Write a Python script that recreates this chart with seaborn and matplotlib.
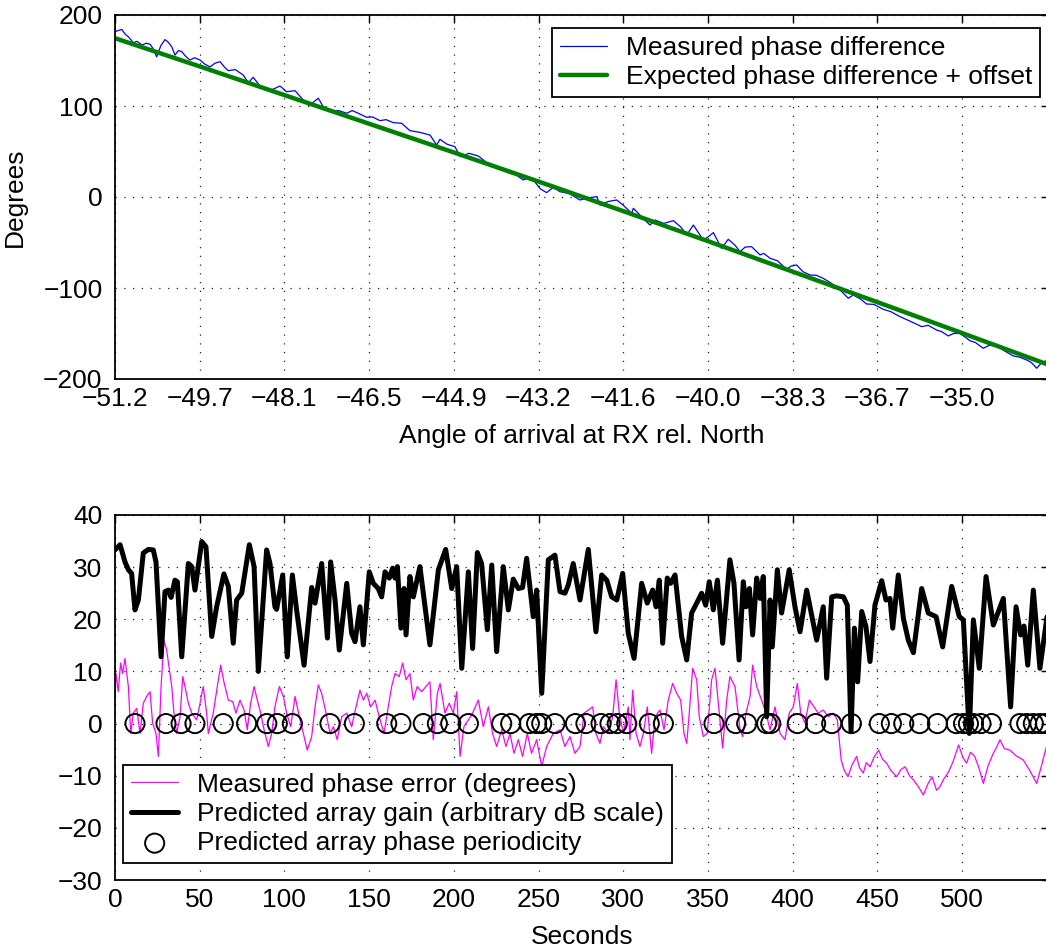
import numpy as np
import pandas as pd
import matplotlib
matplotlib.use("Agg")
import matplotlib.pyplot as plt
import seaborn as sns

# ---------------- data ----------------
# Top panel: time (s) and measured phase difference (deg)
meas_t = [0, 2, 4, 6, 7.9, 10.8, 13, 16, 18.5, 20.7, 22.5, 24.6, 27, 29.5, 31.5, 33.5, 35.4, 37.5,
          39.4, 42, 44.3, 47, 50.2, 53, 56.1, 59, 62, 64.5, 66.9, 71, 75.7, 78.7, 81.6, 86,
          90.5, 94, 97.4, 101.3, 106.3, 110, 114.1, 117, 120, 123, 126.9, 132, 136.8, 140,
          143.6, 148.6, 152, 156.4, 160, 164.3, 169.2, 174.1, 180, 186, 189.9, 191.8, 196,
          200.7, 203.7, 209, 214.5, 220, 225.3, 229, 233.2, 237, 241, 244, 247, 251, 254.8, 258.7,
          262.7, 268, 274.5, 279, 284.4, 286.3, 291, 296.2, 300, 305, 306, 311, 315.8, 318.8,
          324, 329.6, 334, 337.5, 341.4, 344, 347.3, 350, 353.2, 358.1, 362, 366, 369, 372,
          375.8, 380.8, 383, 386.7, 391, 396.5, 399, 402.4, 406, 410.3, 414, 418.1, 423,
          428, 432.9, 435.8, 440, 443.7, 448, 453.5, 458, 463.4, 470, 476.2, 480, 485, 488,
          491.9, 495, 498.8, 504.7, 508, 512.6, 516, 520.5, 525, 530.3, 534, 538.2, 541,
          544.1, 547, 551]
meas_deg = [181.7, 183, 184, 179, 176, 169.6, 171, 167, 169, 167.8, 163, 154, 166, 173, 170, 165,
            156, 161, 159.7, 154, 150.5, 153, 150.5, 146, 143, 147, 148.7, 143, 138.8, 140,
            134, 125.6, 131.5, 121, 116.8, 119, 122, 115.7, 116.8, 109, 101, 104, 108.5, 99,
            93.7, 95, 92, 95, 92, 87.6, 88, 83.9, 85, 81.7, 81, 72.9, 71, 68, 57, 63.4, 58,
            55.3, 44.3, 48, 45, 37, 31.5, 29, 26, 24, 18.7, 21, 18.7, 9, 4.8, 10.6,
            5.8, 4, -3.3, -1, 0.4, -8.8, -5, -3.3, -9, -17.9, -12.4, -22, -30.8, -25.3,
            -29, -26, -33, -41.8, -30.8, -38, -47.3, -44, -39.2, -56.4, -46.5, -53, -60.1, -55,
            -54.6, -63.7, -62, -67.4, -70, -79.5, -76, -74.7, -82, -85.7, -86, -89.4, -95,
            -102.2, -111.3, -107.7, -112, -117.6, -118, -123.4, -126, -131.5, -137, -142.5, -141,
            -146.2, -148, -152.7, -150, -149.8, -157.9, -160, -166.3, -163, -163.7, -169, -174.7,
            -176, -179.1, -182, -188.2, -182, -179]

exp_t = [0, 50, 100, 150, 200, 250, 300, 350, 400, 450, 500, 552]
exp_deg = [174.5, 143.5, 112, 80.5, 49, 17, -15.5, -48.5, -82, -115.5, -149.5, -185]

angle_tick_t = [0, 50, 100, 150, 200, 250, 300, 350, 400, 450, 500]
angle_tick_labels = ["\u221251.2", "\u221249.7", "\u221248.1", "\u221246.5", "\u221244.9", "\u221243.2",
                     "\u221241.6", "\u221240.0", "\u221238.3", "\u221236.7", "\u221235.0"]

# Bottom panel: predicted array gain (arbitrary dB)
gain_t = [0, 3, 5.9, 7.9, 9.8, 11.8, 13.8, 16.7, 19.7, 22.6, 24.2, 27.2, 29.5, 31.5, 33.1, 35.4,
          36.8, 39.4, 43.3, 45.3, 47.2, 51.2, 53.7, 57.1, 60, 64.3, 66.9, 69.8, 71.8, 74.8, 79.3,
          82.1, 84.6, 89.5, 91.5, 94.4, 95.4, 99, 101.7, 104.7, 107.2, 111.6, 116.1, 118.1, 122,
          125.4, 127.3, 129.9, 132.4, 136.8, 139.7, 141.7, 144.6, 146.6, 150.1, 152.5, 155.4,
          157.4, 159.4, 161.9, 163.9, 165.3, 166.7, 168.8, 170.6, 171.8, 174.1, 176.1, 180,
          185.9, 190.9, 195.2, 198.8, 201.7, 204.7, 208.6, 211.1, 213.9, 216.4, 219.8, 222.4,
          225.3, 229.2, 232.2, 235.1, 238.1, 240.6, 243, 246.9, 248.9, 251.9, 255.8, 259.7,
          262.7, 265.6, 267.6, 270.5, 274.5, 279.4, 283.9, 287.3, 290.3, 293.2, 296.2, 299.7,
          303, 306.4, 310.9, 314.2, 317.4, 319.4, 321.3, 323.3, 326, 328, 330.6, 334.5, 337.5,
          340.4, 343.4, 346.3, 348.7, 350.8, 353.2, 355.6, 358.7, 363, 365.4, 368.4, 370.9,
          372.5, 374.5, 376.4, 378.8, 380.8, 382.7, 384.7, 386.7, 388, 391, 393.5, 398, 401.4,
          404.4, 408.3, 411.8, 414.2, 418.1, 420.1, 423.1, 426, 430, 432.3, 434.5, 436.5, 438.4,
          440.8, 443.3, 445.7, 448.6, 452.6, 455.1, 457.5, 459.1, 462.4, 465.4, 468.3, 471.3,
          476.2, 480.1, 484.7, 488.6, 493.9, 498.4, 500.8, 504.3, 506.7, 510.2, 514.2, 518.5,
          524.4, 528.7, 531.9, 534.6, 536.6, 538.8, 542.1, 546, 551]
gain_db = [33.3, 34.3, 31, 29.5, 28.8, 21.8, 23.7, 32.7, 33.4, 33.3, 31, 12.8, 25.3, 25.6, 24.2, 27.5,
           27.2, 12.8, 30.7, 30.1, 25.6, 34.9, 33.9, 16.7, 22.4, 28.7, 26.3, 15.4, 23.7, 25, 34.3,
           30.1, 10, 33.3, 30.7, 22.4, 21.9, 28.5, 12.8, 28.5, 21.8, 11.2, 26.1, 23.1, 30.7,
           16.4, 31, 23.7, 14.1, 26.9, 17.3, 15.7, 22.4, 15.1, 29.1, 26.9, 25.9,
           24.3, 29.1, 27.9, 29.8, 27.9, 30.1, 18.3, 25.9, 17, 28.2, 24.3, 30.1,
           15.1, 29.5, 33.4, 25.9, 30.1, 10.6, 29.1, 14.4, 32.8, 30.7, 18, 30.4,
           13.8, 30.1, 21.8, 27.7, 25.9, 26.1, 31.7, 20.5, 25.6, 5.8, 31.4, 32.3,
           25.3, 25, 26.6, 30.7, 23.7, 33.4, 17.6, 28.5, 27.5, 24.3, 23.7, 28.8,
           17.3, 12.5, 26.9, 23.1, 25.6, 22.4, 27.5, 15.4, 27.9, 26.9, 28.5, 16.7, 12.2,
           21.2, 23.1, 25, 22.7, 27.2, 21.8, 27.5, 15.4, 31.4, 26.9, 12.2, 27.2,
           22.4, 25.9, 17, 27.9, 24, 28.2, 1.3, 23.7, 14.7, 29.5, 21.2, 29.5, 22.4,
           17.6, 25.6, 19.9, 16, 22.4, 8.7, 24.3, 24.5, 24.3, 22.7, -1.5, 18.3, 8,
           21.5, 18.6, 11.9, 22.7, 27.4, 23.7, 24, 18.3, 28.5, 20.2, 16, 13.6,
           25.9, 21.2, 20.5, 14.7, 26.3, 20.5, 19.9, -1.9, 19.9, 10.6, 28.2, 18.9,
           24, 3.2, 22.4, 17, 18.7, 11.2, 25.6, 10.6, 22.4]

# Bottom panel: measured phase error (deg)
err_t = [0, 0.6, 1.9, 3.3, 4.5, 5.9, 7.9, 9.3, 10.8, 12.8, 14.8, 16.7, 18.7, 20.7, 22.2, 24.2, 25.6,
         27.2, 28.9, 30.5, 32.1, 33.5, 34.8, 36.4, 38.4, 40, 41.3, 43.3, 45.3, 48.2, 50.2, 52.1,
         54.1, 55.1, 58, 60.4, 62.4, 64.3, 66.9, 69.5, 71.4, 73.8, 76.2, 78.1, 80.1, 82.1, 84,
         86, 88, 90.5, 92.5, 94.4, 97, 99.4, 101.3, 103.7, 106.3, 108.8, 111.2, 113.5, 116.1,
         118.1, 120, 122, 124.6, 126.9, 128.9, 131.2, 133.8, 136.8, 139.7, 142.3, 144.6, 146.6,
         148.6, 150.9, 153.5, 156, 158.8, 161.3, 163.3, 165.3, 167.8, 169.8, 171.8, 174.1,
         176.1, 178.4, 181, 183.6, 185.9, 187.9, 190.3, 191.9, 194.8, 197.3, 199.7, 201.7,
         203.7, 206, 208.6, 211.1, 214.5, 217.4, 220.4, 222.9, 225.3, 228.3, 230.8, 233.2,
         235.5, 238.1, 240.6, 243.4, 245.9, 248.9, 251.9, 254.8, 258.7,
         262.7, 265.6, 268.6, 271.5, 274.5, 276.9, 279.4, 282, 283.9, 286.3, 288.3, 291.2,
         293.8, 295.8, 297.7, 300.1, 303, 304, 305.6, 307.6, 309.9, 311.9, 314.2, 316.8,
         318.8, 321.7, 324.1, 326.6, 329.2, 331.6, 333.9, 335.9, 337.5, 339, 341, 343.4,
         344.9, 347.3, 349.6, 352.2, 354.2, 356.7, 358.7, 361.1, 363, 366, 369, 370.5,
         372.5, 374.9, 376.4, 378.8, 381.7, 384.3, 386.7, 389.6, 392.6, 395.5, 398, 400.4,
         402.8, 404.8, 407.3, 409.9, 412.6, 415.2, 418.1, 421.1, 424, 426.4,
         428.7, 430.5, 432.7, 435, 437.8, 439.5, 441.7, 443.5, 445.7, 448, 450.8, 453, 455.5,
         458, 461.4, 464, 466.5, 469, 471.3, 474, 477.2, 480, 482.3, 485, 487, 489.5, 491.7,
         494.5, 498, 500.5, 502.7, 505, 507.5, 510, 512.6, 515.5, 518.5, 520.5, 522.4, 525,
         528.3, 532, 536.2, 540, 544.1, 547, 551]
err_deg = [5.8, 9.6, 6.1, 11.6, 9.6, 12.5, 7.1, -1.9, 2, 2.9, -1.9, 3.9, 5.2, 6.1, 0.1, -1.9, -6.3,
           7.1, 16, 14.1, 10.3, 7.1, 2, -1.9, 1.3, 9, 7.1, 3.9, 2, 0.7, 3.9, 7.1,
           2, -1.9, 2, 7.1, 11.2, 8, 4.5, 4.2, 2, 4.5, 2.6, -1.2, 3.9, 7.1, 4.5,
           2, -1.2, -4.4, -1.9, 3.2, 7.1, 5.2, 2, -0.6, 5.2, 1.3, -1.9, -5.1, -2.5,
           3.2, 7.4, 5.8, 2, -1.9, -0.6, -3.1, 1.3, 2, -0.6, 3.2, 6.4, 4.5,
           5.8, 3.2, 4.5, 1.3, -1.9, 3.2, 7.1, 9.6, 9, 11.6, 8.4, 9.6,
           4.5, 7.1, 6.1, 7.1, 8, -3.1, 5.8, 7.7, 2, 3.9, 2, 6.1,
           -6.3, -0.6, 0.7, 2, 4.5, -0.6, 3.2, -1.9, -4.4, -1.2, -4.4, -1.9,
           -5.7, -3.1, -6.3, -1.9, -5.7, -3.1, -8.2, -4.4, -1.9,
           -1.2, -4.4, -2.5, -5.7, -4.4, 2, 2.6, 3.2, -1.9, -3.8, -0.6, -1.9,
           1.3, 8.4, 2, -1.9, 3.2, -3.1, 6.4, -1.9, -4.4, -1.9, 3.2, -5.7,
           1.3, 2.6, -1.2, 4.5, 7.7, 5.8, 4.5, -1.9, -3.8, 2, 10.6, 8.4,
           1.3, -2.5, -1.9, 8.4, 10.6, 2, -4.7, 4.5, 9, 7.1, -1.2, -2.5,
           2, 5.2, 11.2, 7.1, 4.5, 2, -1.2, 3.2, -1.9, -3.1, 2, 3.2,
           7.7, 2, 0.1, 4.5, 3.2, 2, 2.6, 1.3, 2, 0.7,
           -7, -9, -10.2, -8, -6.3, -8.5, -9.5, -7.5, -8.3, -6.5, -5.1, -6.8, -7.6,
           -9, -10.2, -8.8, -8.3, -10, -10.8, -12, -13.7, -11.5, -10.2, -12.8, -12.1, -10.5, -9.5,
           -7.5, -4.1, -6.5, -7.6, -5.5, -6.3, -8.5, -11.5, -8, -5.7, -4.5, -3.1, -4.8,
           -5.1, -6.2, -7, -9, -11.5, -8, -3]

# Bottom panel: predicted array phase periodicity (seconds, at 0)
period_t = [11.8, 30.1, 39.0, 47.2, 63.9, 77.7, 89.6, 95.8, 104.7, 126.9, 141.3, 160.4, 168.8,
            182.0, 190.3, 198.2, 208.6, 228.3, 233.6, 244.6, 248.9, 251.9, 259.7, 271.8, 278.0,
            286.9, 292.2, 296.5, 302.1, 315.4, 323.7, 353.6, 366.4, 372.9, 384.7, 387.1, 402.8,
            413.6, 423.1, 434.7, 451.2, 458.3, 465.6, 475.0, 485.5, 496.6, 500.9, 503.8, 506.8,
            511.2, 517.4, 534.2, 538.2, 542.1, 546.0, 549.3]
period_val = [0] * len(period_t)

sec_ticks = [0, 50, 100, 150, 200, 250, 300, 350, 400, 450, 500]

# ---------------- figure ----------------
sns.set_theme(style="white")
plt.rcParams["font.family"] = ["Liberation Sans", "DejaVu Sans"]
plt.rcParams.update({"text.color": "black", "axes.labelcolor": "black",
                     "xtick.color": "black", "ytick.color": "black"})
FS = 19

W, H = 1046, 949
fig = plt.figure(figsize=(W / 100, H / 100), dpi=100)
fig.patch.set_facecolor("white")

left_px, right_px = 115, 1049
px_per_s = 1.694
xmax = (right_px - left_px) / px_per_s

ax1 = fig.add_axes([left_px / W, 1 - 379 / H, (right_px - left_px) / W, 364 / H])
ax2 = fig.add_axes([left_px / W, 1 - 880 / H, (right_px - left_px) / W, 365 / H])

df_meas = pd.DataFrame({"t": meas_t, "v": meas_deg})
df_exp = pd.DataFrame({"t": exp_t, "v": exp_deg})
sns.lineplot(data=df_meas, x="t", y="v", ax=ax1, color=(0, 0, 1), lw=0.9,
             estimator=None, sort=False, label="Measured phase difference")
sns.lineplot(data=df_exp, x="t", y="v", ax=ax1, color=(0, 0.5, 0), lw=3.2,
             estimator=None, sort=False, label="Expected phase difference + offset")

df_err = pd.DataFrame({"t": err_t, "v": err_deg})
df_gain = pd.DataFrame({"t": gain_t, "v": gain_db})
df_per = pd.DataFrame({"t": period_t, "v": period_val})
sns.lineplot(data=df_err, x="t", y="v", ax=ax2, color=(1, 0, 1), lw=0.9,
             estimator=None, sort=False, label="Measured phase error (degrees)")
sns.lineplot(data=df_gain, x="t", y="v", ax=ax2, color="black", lw=3.6,
             estimator=None, sort=False, label="Predicted array gain (arbitrary dB scale)")
sns.scatterplot(data=df_per, x="t", y="v", ax=ax2, marker="o", s=190,
                facecolor="none", edgecolor="black", linewidth=1.4,
                label="Predicted array phase periodicity", zorder=5)

grid_kw = dict(color="#222222", linestyle=(0, (1, 6)), linewidth=0.9)

for ax in (ax1, ax2):
    ax.set_xlim(0, xmax)
    ax.set_xticks(sec_ticks)
    ax.grid(True, **grid_kw)
    ax.tick_params(direction="in", length=6, width=1.0, top=True, right=True,
                   labelsize=FS, colors="black")
    ax.tick_params(axis="x", pad=6)
    ax.tick_params(axis="y", pad=9)
    for sp in ax.spines.values():
        sp.set_color("black")
        sp.set_linewidth(1.3)
        sp.set_visible(True)
    ax.set_facecolor("white")

ax1.set_ylim(-200, 200)
ax1.set_yticks([-200, -100, 0, 100, 200])
ax1.set_yticklabels(["\u2212200", "\u2212100", "0", "100", "200"])
ax1.set_xticklabels(angle_tick_labels)
ax1.set_xlabel("Angle of arrival at RX rel. North", fontsize=FS, labelpad=9, color="black")
ax1.set_ylabel("Degrees", fontsize=FS, color="black")
ax1.yaxis.set_label_coords(-0.0945, 0.5)

ax2.set_ylim(-30, 40)
ax2.set_yticks([-30, -20, -10, 0, 10, 20, 30, 40])
ax2.set_yticklabels(["\u221230", "\u221220", "\u221210", "0", "10", "20", "30", "40"])
ax2.set_xticklabels([str(v) for v in sec_ticks])
ax2.set_xlabel("Seconds", fontsize=FS, labelpad=9, color="black")
ax2.set_ylabel("")

leg_kw = dict(fontsize=FS, frameon=True, fancybox=False, framealpha=1, edgecolor="black",
              handlelength=1.8, handletextpad=0.7, borderpad=0.3, labelspacing=0.2,
              borderaxespad=0)
leg1 = ax1.legend(loc="upper right", bbox_to_anchor=(1040 / W, 1 - 28 / H),
                  bbox_transform=fig.transFigure, **leg_kw)
leg1.get_frame().set_linewidth(1.3)
leg2 = ax2.legend(loc="lower left", bbox_to_anchor=(123 / W, 1 - 863 / H),
                  bbox_transform=fig.transFigure, **leg_kw)
leg2.get_frame().set_linewidth(1.3)
for leg in (leg1, leg2):
    for txt in leg.get_texts():
        txt.set_color("black")

fig.savefig("out.png", dpi=100, facecolor="white")
